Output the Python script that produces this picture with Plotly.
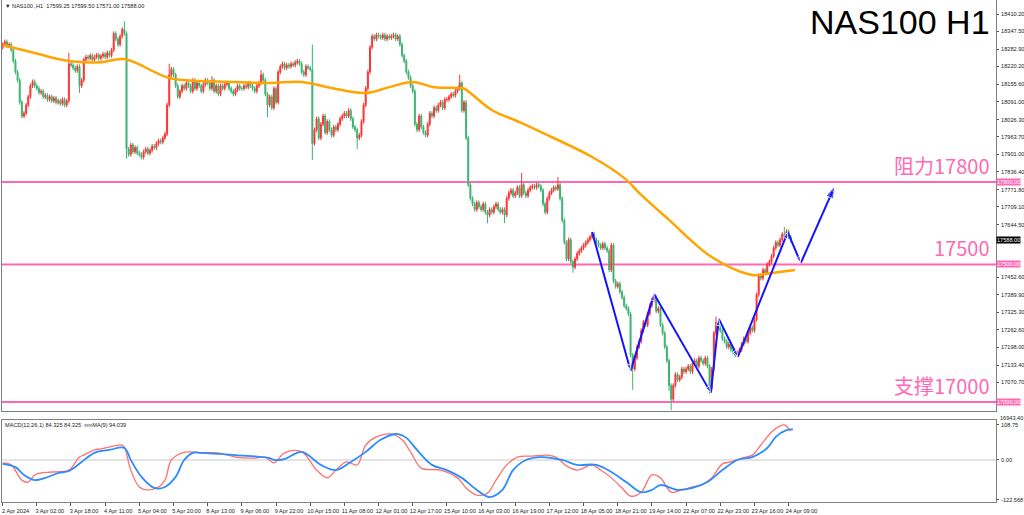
import plotly.graph_objects as go

# ---------------- data ----------------
x_labels = ["2 Apr 2024", "3 Apr 02:00", "3 Apr 18:00", "4 Apr 11:00", "5 Apr 04:00", "5 Apr 20:00",
            "8 Apr 13:00", "9 Apr 06:00", "9 Apr 22:00", "10 Apr 15:00", "11 Apr 08:00", "12 Apr 01:00",
            "12 Apr 17:00", "15 Apr 10:00", "16 Apr 03:00", "16 Apr 19:00", "17 Apr 12:00", "18 Apr 05:00",
            "18 Apr 21:00", "19 Apr 14:00", "22 Apr 07:00", "22 Apr 23:00", "23 Apr 16:00", "24 Apr 09:00"]
bars_per_label = 16

open_first = 18290
closes = [
    18300, 18310, 18295, 18300, 18280, 18240, 18200, 18170, 18090, 18040, 18050, 18080, 18110, 18150, 18165, 18150,
    18140, 18125, 18130, 18110, 18115, 18100, 18110, 18095, 18105, 18090, 18095, 18085, 18100, 18080, 18095, 18230,
    18225, 18215, 18205, 18220, 18150, 18170, 18245, 18255, 18250, 18260, 18245, 18255, 18262, 18250, 18258, 18265,
    18255, 18270, 18260, 18280, 18340, 18320, 18300, 18330, 18355, 18340, 17920, 17900, 17935, 17910, 17925, 17905,
    17900, 17890, 17910, 17920, 17905, 17915, 17930, 17925, 17940, 17950, 17945, 17960, 17975, 18080, 18190, 18210,
    18190, 18150, 18110, 18130, 18150, 18140, 18160, 18150, 18130, 18170, 18140, 18160, 18150, 18130, 18155, 18170,
    18160, 18140, 18170, 18130, 18150, 18120, 18150, 18140, 18155, 18160, 18140, 18130, 18120, 18135, 18150, 18140,
    18140, 18150, 18145, 18160, 18150, 18140, 18130, 18150, 18160, 18190, 18170, 18120, 18080, 18110, 18070, 18140,
    18090, 18200, 18220, 18230, 18215, 18225, 18220, 18230, 18225, 18235, 18240, 18230, 18200, 18190, 18220, 18215,
    18210, 17940, 17990, 18030, 17960, 18010, 18040, 17980, 18020, 17990, 17970, 18000, 17990, 18010, 18030, 18040,
    18050, 18040, 18060, 18030, 18000, 17990, 17960, 17970, 18020, 18080, 18140, 18200, 18290, 18330, 18320, 18335,
    18330, 18325, 18335, 18320, 18330, 18325, 18330, 18335, 18320, 18330, 18300, 18260, 18240, 18200, 18180, 18150,
    18130, 18010, 17990, 18040, 18000, 17980, 17970, 18010, 18050, 18040, 18070, 18060, 18080, 18090, 18070, 18100,
    18100, 18110, 18120, 18115, 18130, 18140, 18160, 18060, 18090, 17960, 17790, 17740, 17720, 17700, 17725, 17710,
    17700, 17720, 17690, 17680, 17700, 17690, 17710, 17720, 17700, 17690, 17700, 17680, 17740, 17760, 17770, 17750,
    17760, 17780, 17750, 17790, 17760, 17750, 17770, 17780, 17785, 17780, 17790, 17785, 17770, 17720, 17690, 17740,
    17760, 17770, 17780, 17775, 17790, 17740, 17660, 17580, 17520, 17590, 17510, 17490, 17520, 17540, 17550, 17560,
    17570, 17580, 17590, 17600, 17610, 17590, 17580, 17570, 17560, 17575, 17560, 17550, 17480, 17570, 17440, 17420,
    17430, 17400, 17380, 17350, 17340, 17320, 17170, 17120, 17160, 17200, 17220, 17260, 17290, 17280, 17320, 17350,
    17370, 17380, 17330, 17340, 17280, 17250, 17200, 17150, 17060, 17010, 17060, 17100, 17080, 17090, 17120, 17110,
    17120, 17130, 17110, 17140, 17150, 17130, 17160, 17150, 17140, 17160, 17130, 17050, 17120, 17250, 17290, 17270,
    17260, 17230, 17220, 17200, 17210, 17190, 17180, 17170, 17180, 17190, 17210, 17230, 17220, 17250, 17270, 17260,
    17300, 17390, 17460, 17450, 17480, 17470, 17500, 17510, 17530, 17560, 17580, 17570, 17590, 17610, 17600, 17620,
    17600, 17588,
]
high_spikes = {31: 18270, 57: 18385, 78: 18230, 121: 18207, 145: 18300, 214: 18190, 243: 17833,
               260: 17818, 334: 17310, 366: 17636, 170: 18150, 98: 18185}
low_spikes = {36: 18124, 58: 17885, 124: 18036, 145: 17880, 166: 17920, 227: 17650, 235: 17650,
              267: 17470, 295: 17044, 312: 17040, 313: 16970, 331: 17030}
wick = 8

ma_idx = [0, 15, 31, 46, 57, 78, 93, 109, 125, 140, 154, 170, 181, 192, 202, 214, 216, 229, 242,
          258, 276, 291, 299, 312, 332, 351, 360, 371]
ma_val = [18298, 18269, 18240, 18236, 18247, 18178, 18167, 18164, 18160, 18164, 18142, 18124, 18145,
          18164, 18145, 18142, 18140, 18062, 18018, 17960, 17891, 17815, 17753, 17662, 17527, 17462,
          17469, 17480]

macd_idx = [0, 4, 9, 12, 15, 18, 23, 31, 36, 38, 43, 46, 56, 57, 60, 64, 68, 73, 76, 79, 84, 89, 93,
            101, 109, 118, 123, 127, 132, 140, 147, 152, 156, 161, 166, 170, 175, 182, 187, 191, 196,
            205, 213, 217, 222, 227, 231, 236, 241, 248, 255, 259, 264, 269, 276, 280, 285, 290, 294,
            299, 304, 308, 313, 318, 323, 327, 332, 337, 341, 346, 351, 355, 360, 364, 366, 369]
macd_val = [-9, -15, -62, -68, -46, -40, -37, -31, 9, 15, 31, 34, 46, 40, -31, -83, -92, -83, -62, 0,
            22, 25, 22, 22, 9, 6, 9, -9, 22, 25, -31, -55, -31, -6, -15, 46, 71, 80, 62, 25, -25,
            -31, -55, -86, -108, -102, -62, -15, 9, 12, 15, 9, -18, -31, -15, -31, -55, -86, -111,
            -99, -46, -55, -99, -92, -83, -77, -55, -12, -6, 6, 15, 46, 86, 105, 108, 90]
sig_idx = [0, 6, 10, 15, 20, 26, 31, 37, 43, 50, 57, 60, 65, 71, 76, 81, 85, 89, 93, 109, 125, 127,
           132, 140, 149, 156, 163, 170, 177, 184, 189, 194, 201, 208, 215, 222, 228, 234, 239, 245,
           252, 262, 269, 278, 285, 292, 299, 304, 308, 316, 323, 330, 337, 344, 351, 358, 362, 367, 370]
sig_val = [-12, -22, -46, -62, -55, -40, -34, -6, 22, 31, 37, 0, -52, -86, -83, -52, 0, 22, 22, 15, 6,
           0, 3, 25, -15, -31, -6, 25, 62, 80, 68, 31, -15, -31, -55, -92, -114, -92, -31, 0, 9, 0,
           -15, -15, -37, -68, -99, -92, -77, -92, -86, -68, -31, 0, 9, 37, 71, 92, 94]

zig_idx = [276, 294, 305, 331.6, 335.3, 344.2, 367.6, 373.7, 389.6]
zig_val = [17618, 17113, 17393, 17033, 17302, 17164, 17618, 17505, 17785]

levels = [17800, 17500, 17000]
level_labels = ["阻力17800", "17500", "支撑17000"]
level_boxes = ["17800.00", "17500.00", "17000.00"]
current_price = 17588.00

price_ticks = [18410.20, 18347.50, 18282.90, 18220.20, 18155.60, 18091.00, 18026.30, 17963.70, 17901.00,
               17836.40, 17771.80, 17709.10, 17644.50, 17452.60, 17389.90, 17325.30, 17262.60,
               17198.00, 17133.40, 17070.70]
bottom_price_label = "16943.40"
macd_ticks = [108.75, 0.0, -122.568]
macd_tick_text = ["108.75", "0.00", "-122.568"]

info_text = "▼ NAS100.,H1  17599.25 17599.50 17571.00 17588.00"
macd_text = "MACD(12,26,1) 84.325 84.325  ∞∞MA(9) 94.039"
title_text = "NAS100 H1"

# ---------------- build ----------------
n = len(closes)
idx = list(range(n))
opens = [open_first] + closes[:-1]
highs = [high_spikes.get(i, max(o, c) + wick) for i, (o, c) in enumerate(zip(opens, closes))]
lows = [low_spikes.get(i, min(o, c) - wick) for i, (o, c) in enumerate(zip(opens, closes))]

PINK = "#ff69b4"
FONT = "Liberation Sans Narrow, Liberation Sans, Arial, sans-serif"
AX = dict(family=FONT, size=5.6, color="#222222")

fig = go.Figure()
fig.add_trace(go.Candlestick(
    x=idx, open=opens, high=highs, low=lows, close=closes,
    increasing=dict(line=dict(color="#ff3333", width=1), fillcolor="#ff3333"),
    decreasing=dict(line=dict(color="#3cb371", width=1), fillcolor="#3cb371"),
    whiskerwidth=0, xaxis="x", yaxis="y", showlegend=False, hoverinfo="skip"))
fig.add_trace(go.Scatter(x=ma_idx, y=ma_val, mode="lines", line=dict(color="#ffa500", width=2.5, shape="spline"),
                         xaxis="x", yaxis="y", showlegend=False, hoverinfo="skip"))
sizes = [0] + [7] * (len(zig_idx) - 2) + [13]
fig.add_trace(go.Scatter(x=zig_idx, y=zig_val, mode="lines+markers",
                         line=dict(color="#1414ff", width=2),
                         marker=dict(symbol="arrow", angleref="previous", size=sizes, color="#1414ff"),
                         xaxis="x", yaxis="y", showlegend=False, hoverinfo="skip"))
fig.add_trace(go.Scatter(x=macd_idx, y=macd_val, mode="lines", line=dict(color="#ff7070", width=1.3, shape="spline"),
                         xaxis="x2", yaxis="y2", showlegend=False, hoverinfo="skip"))
fig.add_trace(go.Scatter(x=sig_idx, y=sig_val, mode="lines", line=dict(color="#2b8cff", width=1.8, shape="spline"),
                         xaxis="x2", yaxis="y2", showlegend=False, hoverinfo="skip"))

xr = [-0.3, 465.1]
tickvals_x = [i * bars_per_label for i in range(len(x_labels))]

fig.update_layout(
    width=1024, height=515, margin=dict(l=2, r=28, t=0, b=13, autoexpand=False),
    paper_bgcolor="white", plot_bgcolor="white", showlegend=False, boxgap=0.35,
    xaxis=dict(domain=[0, 1], range=xr, anchor="y", showticklabels=False, ticks="", showgrid=False,
               zeroline=False, showline=True, mirror=True, linecolor="#808080", rangeslider=dict(visible=False)),
    yaxis=dict(domain=[0.1813, 1], range=[16967, 18462], side="right", tickvals=price_ticks,
               ticktext=[f"{v:.2f}" for v in price_ticks], ticks="outside", ticklen=2, tickcolor="#555",
               tickfont=AX, showgrid=False, zeroline=False, showline=True, mirror=True, linecolor="#808080",
               automargin=False, ticklabelstandoff=1),
    xaxis2=dict(domain=[0, 1], range=xr, anchor="y2", tickvals=tickvals_x, ticktext=x_labels,
                ticks="outside", ticklen=3, tickcolor="#555", tickfont=AX, ticklabelshift=13, tickangle=0,
                ticklabelstandoff=0, ticklabeloverflow="allow", showgrid=False, zeroline=False,
                showline=True, mirror=True, linecolor="#808080", rangeslider=dict(visible=False),
                automargin=False),
    yaxis2=dict(domain=[0, 0.1624], range=[-129.2, 121.5], side="right", tickvals=macd_ticks,
                ticktext=macd_tick_text, ticks="outside", ticklen=2, tickcolor="#555", tickfont=AX,
                showgrid=False, zeroline=False, showline=True, mirror=True, linecolor="#808080",
                automargin=False, ticklabelstandoff=1),
)

shapes = []
for lv in levels:
    shapes.append(dict(type="line", xref="paper", x0=0, x1=1, yref="y", y0=lv, y1=lv,
                       line=dict(color=PINK, width=2), layer="below"))
shapes.append(dict(type="line", xref="paper", x0=0, x1=1, yref="y2", y0=0, y1=0,
                   line=dict(color="#c8c8c8", width=1), layer="below"))
fig.update_layout(shapes=shapes)

ann = []
for lv, lab, box in zip(levels, level_labels, level_boxes):
    ann.append(dict(text=lab, xref="paper", x=0.996, yref="y", y=lv, xanchor="right", yanchor="bottom",
                    yshift=0, showarrow=False,
                    font=dict(family="Noto Sans CJK SC, Noto Sans, sans-serif", size=20, color=PINK)))
    ann.append(dict(text=box, xref="paper", x=1, yref="y", y=lv, xanchor="left", yanchor="middle",
                    showarrow=False, bgcolor=PINK, borderpad=0,
                    font=dict(family=FONT, size=5.6, color="white")))
ann.append(dict(text=f"{current_price:.2f}", xref="paper", x=1, yref="y", y=current_price, xanchor="left",
                yanchor="middle", showarrow=False, bgcolor="black", borderpad=0,
                font=dict(family=FONT, size=5.6, color="white")))
ann.append(dict(text=bottom_price_label, xref="paper", x=1, xshift=2, yref="paper", y=0.168,
                xanchor="left", yanchor="middle", showarrow=False, font=AX))
ann.append(dict(text=title_text, xref="paper", x=0.996, yref="paper", y=0.956, xanchor="right",
                yanchor="middle", showarrow=False, font=dict(family="Liberation Sans, Arial, sans-serif",
                                                             size=34, color="black")))
ann.append(dict(text=info_text, xref="paper", x=0.001, yref="paper", y=0.989, xanchor="left",
                yanchor="middle", showarrow=False, font=AX))
ann.append(dict(text=macd_text, xref="paper", x=0.001, yref="paper", y=0.153, xanchor="left",
                yanchor="middle", showarrow=False, font=AX))
fig.update_layout(annotations=ann)

fig.write_html("out.html", config={"displayModeBar": False},
               post_script="document.body.style.margin='0px';document.body.style.overflow='hidden';")
